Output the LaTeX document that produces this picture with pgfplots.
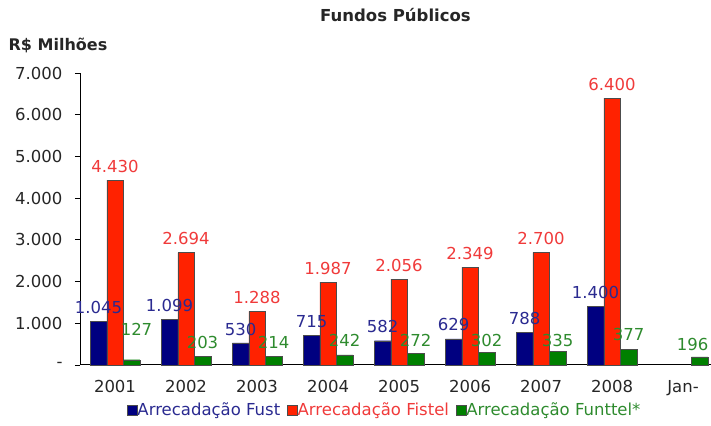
\documentclass[border=0pt]{standalone}
\usepackage{pgfplots}
\pgfplotsset{compat=1.18}
\usepackage{pgfplotstable}
\usepackage{fontspec}
\setmainfont{DejaVu Sans}
\definecolor{cblue}{HTML}{000080}
\definecolor{cred}{HTML}{FF2200}
\definecolor{cgreen}{HTML}{008000}
\definecolor{lblue}{HTML}{2A2A90}
\definecolor{lred}{HTML}{F03A3A}
\definecolor{lgreen}{HTML}{2E8B2E}

\pgfplotstableread{
x y
0 1045
1 1099
2 530
3 715
4 582
5 629
6 788
7 1400
}\fust
\pgfplotstableread{
x y
0 4430
1 2694
2 1288
3 1987
4 2056
5 2349
6 2700
7 6400
}\fistel
\pgfplotstableread{
x y dy dx
0 127 21 5
1 203 4 0
2 214 4 0
3 242 5 0
4 272 4 0
5 302 2 0
6 335 1 0
7 377 5 0
8 196 3 -7
}\funttel

\begin{document}
\begin{tikzpicture}
\useasboundingbox (0,0) rectangle (711pt,425pt);
\begin{axis}[
  at={(80pt,60pt)}, anchor=south west,
  scale only axis, width=631pt, height=292pt,
  xmin=-0.493, xmax=8.394, ymin=0, ymax=7000,
  axis x line=bottom, axis y line=left,
  axis line style={-, line width=1pt, black},
  xtick={0,1,2,3,4,5,6,7,8},
  xticklabels={2001,2002,2003,2004,2005,2006,2007,2008,Jan-},
  ytick={0,1000,2000,3000,4000,5000,6000,7000},
  yticklabels={-,1.000,2.000,3.000,4.000,5.000,6.000,7.000},
  tick align=outside, major tick length=5pt,
  xtick style={draw=none},
  ytick style={line width=0.8pt, black},
  ticklabel style={font=\fontsize{16.5}{18}\selectfont, text=black!85},
  xticklabel style={yshift=-7pt},
  yticklabel style={xshift=-9pt},
  ybar=0pt, bar width=16.5pt,
  point meta=y,
  nodes near coords={\pgfmathprintnumber[fixed, precision=0, 1000 sep={.}, assume math mode=true]{\pgfplotspointmeta}},
  every node near coord/.append style={font=\fontsize{16.5}{18}\selectfont, anchor=south},
  legend style={at={(0.483,0)}, anchor=center, yshift=-45pt, draw=none, fill=none,
    legend columns=3, font=\fontsize{16.5}{18}\selectfont,
    /tikz/every even column/.append style={column sep=5pt},
    /tikz/every odd column/.append style={column sep=-2pt}},
  legend image code/.code={\fill[#1] (0pt,-5pt) rectangle (10pt,5pt);},
  clip=false,
]
\addplot[fill=cblue, draw=black!70, line width=0.4pt,
  every node near coord/.append style={text=lblue, yshift=4pt}] table[x=x,y=y] {\fust};
\addlegendentry{\textcolor{lblue}{Arrecadação Fust}}
\addplot[fill=cred, draw=black!70, line width=0.4pt,
  every node near coord/.append style={text=lred, yshift=4pt}] table[x=x,y=y] {\fistel};
\addlegendentry{\textcolor{lred}{Arrecadação Fistel}}
\addplot[fill=cgreen, draw=black!70, line width=0.4pt,
  visualization depends on={\thisrow{dy} \as \dy},
  visualization depends on={\thisrow{dx} \as \dx},
  every node near coord/.append style={text=lgreen, yshift=\dy pt, xshift=\dx pt}] table[x=x,y=y] {\funttel};
\addlegendentry{\textcolor{lgreen}{Arrecadação Funttel*}}
\node[font=\bfseries\fontsize{16.5}{18}\selectfont, text=black!85] at (rel axis cs:0.5,1) [yshift=58pt] {Fundos Públicos};
\node[font=\bfseries\fontsize{16}{18}\selectfont, text=black!85] at (rel axis cs:0,1) [xshift=-22pt, yshift=28pt] {R\$ Milhões};
\end{axis}
\end{tikzpicture}
\end{document}
